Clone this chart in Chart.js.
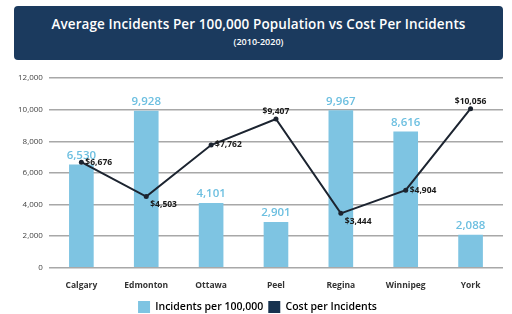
<!DOCTYPE html>
<html><head><meta charset="utf-8">
<script src="https://cdn.jsdelivr.net/npm/chart.js@4"></script>
<style>
html,body{margin:0;padding:0;background:#fff;width:512px;height:314px;overflow:hidden;font-family:"Open Sans",sans-serif}
#title{position:absolute;left:14px;top:6px;width:489px;height:54px;background:#1b3a5e;border-radius:4px;color:#fff;text-align:center}
#t1{font-weight:600;font-size:13.5px;margin-top:9px;letter-spacing:0.1px}
#t2{font-weight:600;font-size:9px;margin-top:2px}
#wrap{position:absolute;left:0;top:62px;width:512px;height:261px}
</style></head><body>
<div id="title"><div id="t1">Average Incidents Per 100,000 Population vs Cost Per Incidents</div><div id="t2">(2010-2020)</div></div>
<div id="wrap"><canvas id="c"></canvas></div>
<script>
const categories = ["Calgary","Edmonton","Ottawa","Peel","Regina","Winnipeg","York"];
const incidents = [6530, 9928, 4101, 2901, 9967, 8616, 2088];
const costs = [6676, 4503, 7762, 9407, 3444, 4904, 10056];
const yTicks = [0, 2000, 4000, 6000, 8000, 10000, 12000];

const fmt = v => v.toLocaleString('en-US');

const labelPlugin = {
  id: 'valueLabels',
  afterDatasetsDraw(chart) {
    const ctx = chart.ctx;
    ctx.save();
    const bars = chart.getDatasetMeta(0).data;
    ctx.font = '600 11.5px "Open Sans"';
    ctx.fillStyle = '#6cbfe0';
    ctx.textAlign = 'center';
    ctx.textBaseline = 'bottom';
    bars.forEach((b, i) => ctx.fillText(fmt(incidents[i]), b.x, b.y - 3));
    const pts = chart.getDatasetMeta(1).data;
    ctx.font = '700 8.5px "Open Sans"';
    ctx.fillStyle = '#1a1a1a';
    pts.forEach((p, i) => {
      if (i === 3 || i === 6) { ctx.textAlign = 'center'; ctx.textBaseline = 'bottom'; ctx.fillText('$' + fmt(costs[i]), p.x, p.y - 3); }
      else { ctx.textAlign = 'left'; ctx.textBaseline = 'middle'; ctx.fillText('$' + fmt(costs[i]), p.x + 4, p.y + (i===1||i===4?8:0)); }
    });
    ctx.restore();
  }
};

new Chart(document.getElementById('c'), {
  data: {
    labels: categories,
    datasets: [
      { type: 'bar', label: 'Incidents per 100,000', data: incidents, backgroundColor: '#7ec4e2', borderWidth: 0, barPercentage: 0.38, categoryPercentage: 1, order: 2 },
      { type: 'line', label: 'Cost per Incidents', data: costs, borderColor: '#1c2430', backgroundColor: '#17324f', borderWidth: 2, pointRadius: 2.5, pointBackgroundColor: '#1c2430', pointBorderWidth: 0, tension: 0, order: 1 }
    ]
  },
  options: {
    responsive: true, maintainAspectRatio: false, animation: false,
    layout: { padding: { left: 12, right: 9, top: 16, bottom: 0 } },
    plugins: {
      tooltip: { enabled: false },
      legend: {
        position: 'bottom',
        labels: {
          font: { family: 'Open Sans', size: 10.5, weight: '600' }, color: '#222',
          boxWidth: 12, boxHeight: 12, padding: 5,
          generateLabels(chart) {
            return [
              { text: 'Incidents per 100,000', fillStyle: '#7ec4e2', strokeStyle: '#7ec4e2', lineWidth: 0, datasetIndex: 0 },
              { text: 'Cost per Incidents', fillStyle: '#17324f', strokeStyle: '#17324f', lineWidth: 0, datasetIndex: 1 }
            ];
          }
        }
      }
    },
    scales: {
      x: {
        grid: { display: false }, border: { display: false },
        ticks: { font: { family: 'Open Sans', size: 8.5, weight: '700' }, color: '#333', padding: 5 }
      },
      y: {
        min: 0, max: 12000,
        afterBuildTicks(axis) { axis.ticks = yTicks.map(v => ({ value: v })); },
        grid: { color: '#a8a8a8', lineWidth: 1.5, drawTicks: false },
        border: { display: false },
        ticks: { font: { family: 'Open Sans', size: 8 }, color: '#444', padding: 6, callback: v => fmt(v) }
      }
    }
  },
  plugins: [labelPlugin]
});
</script>
</body></html>
